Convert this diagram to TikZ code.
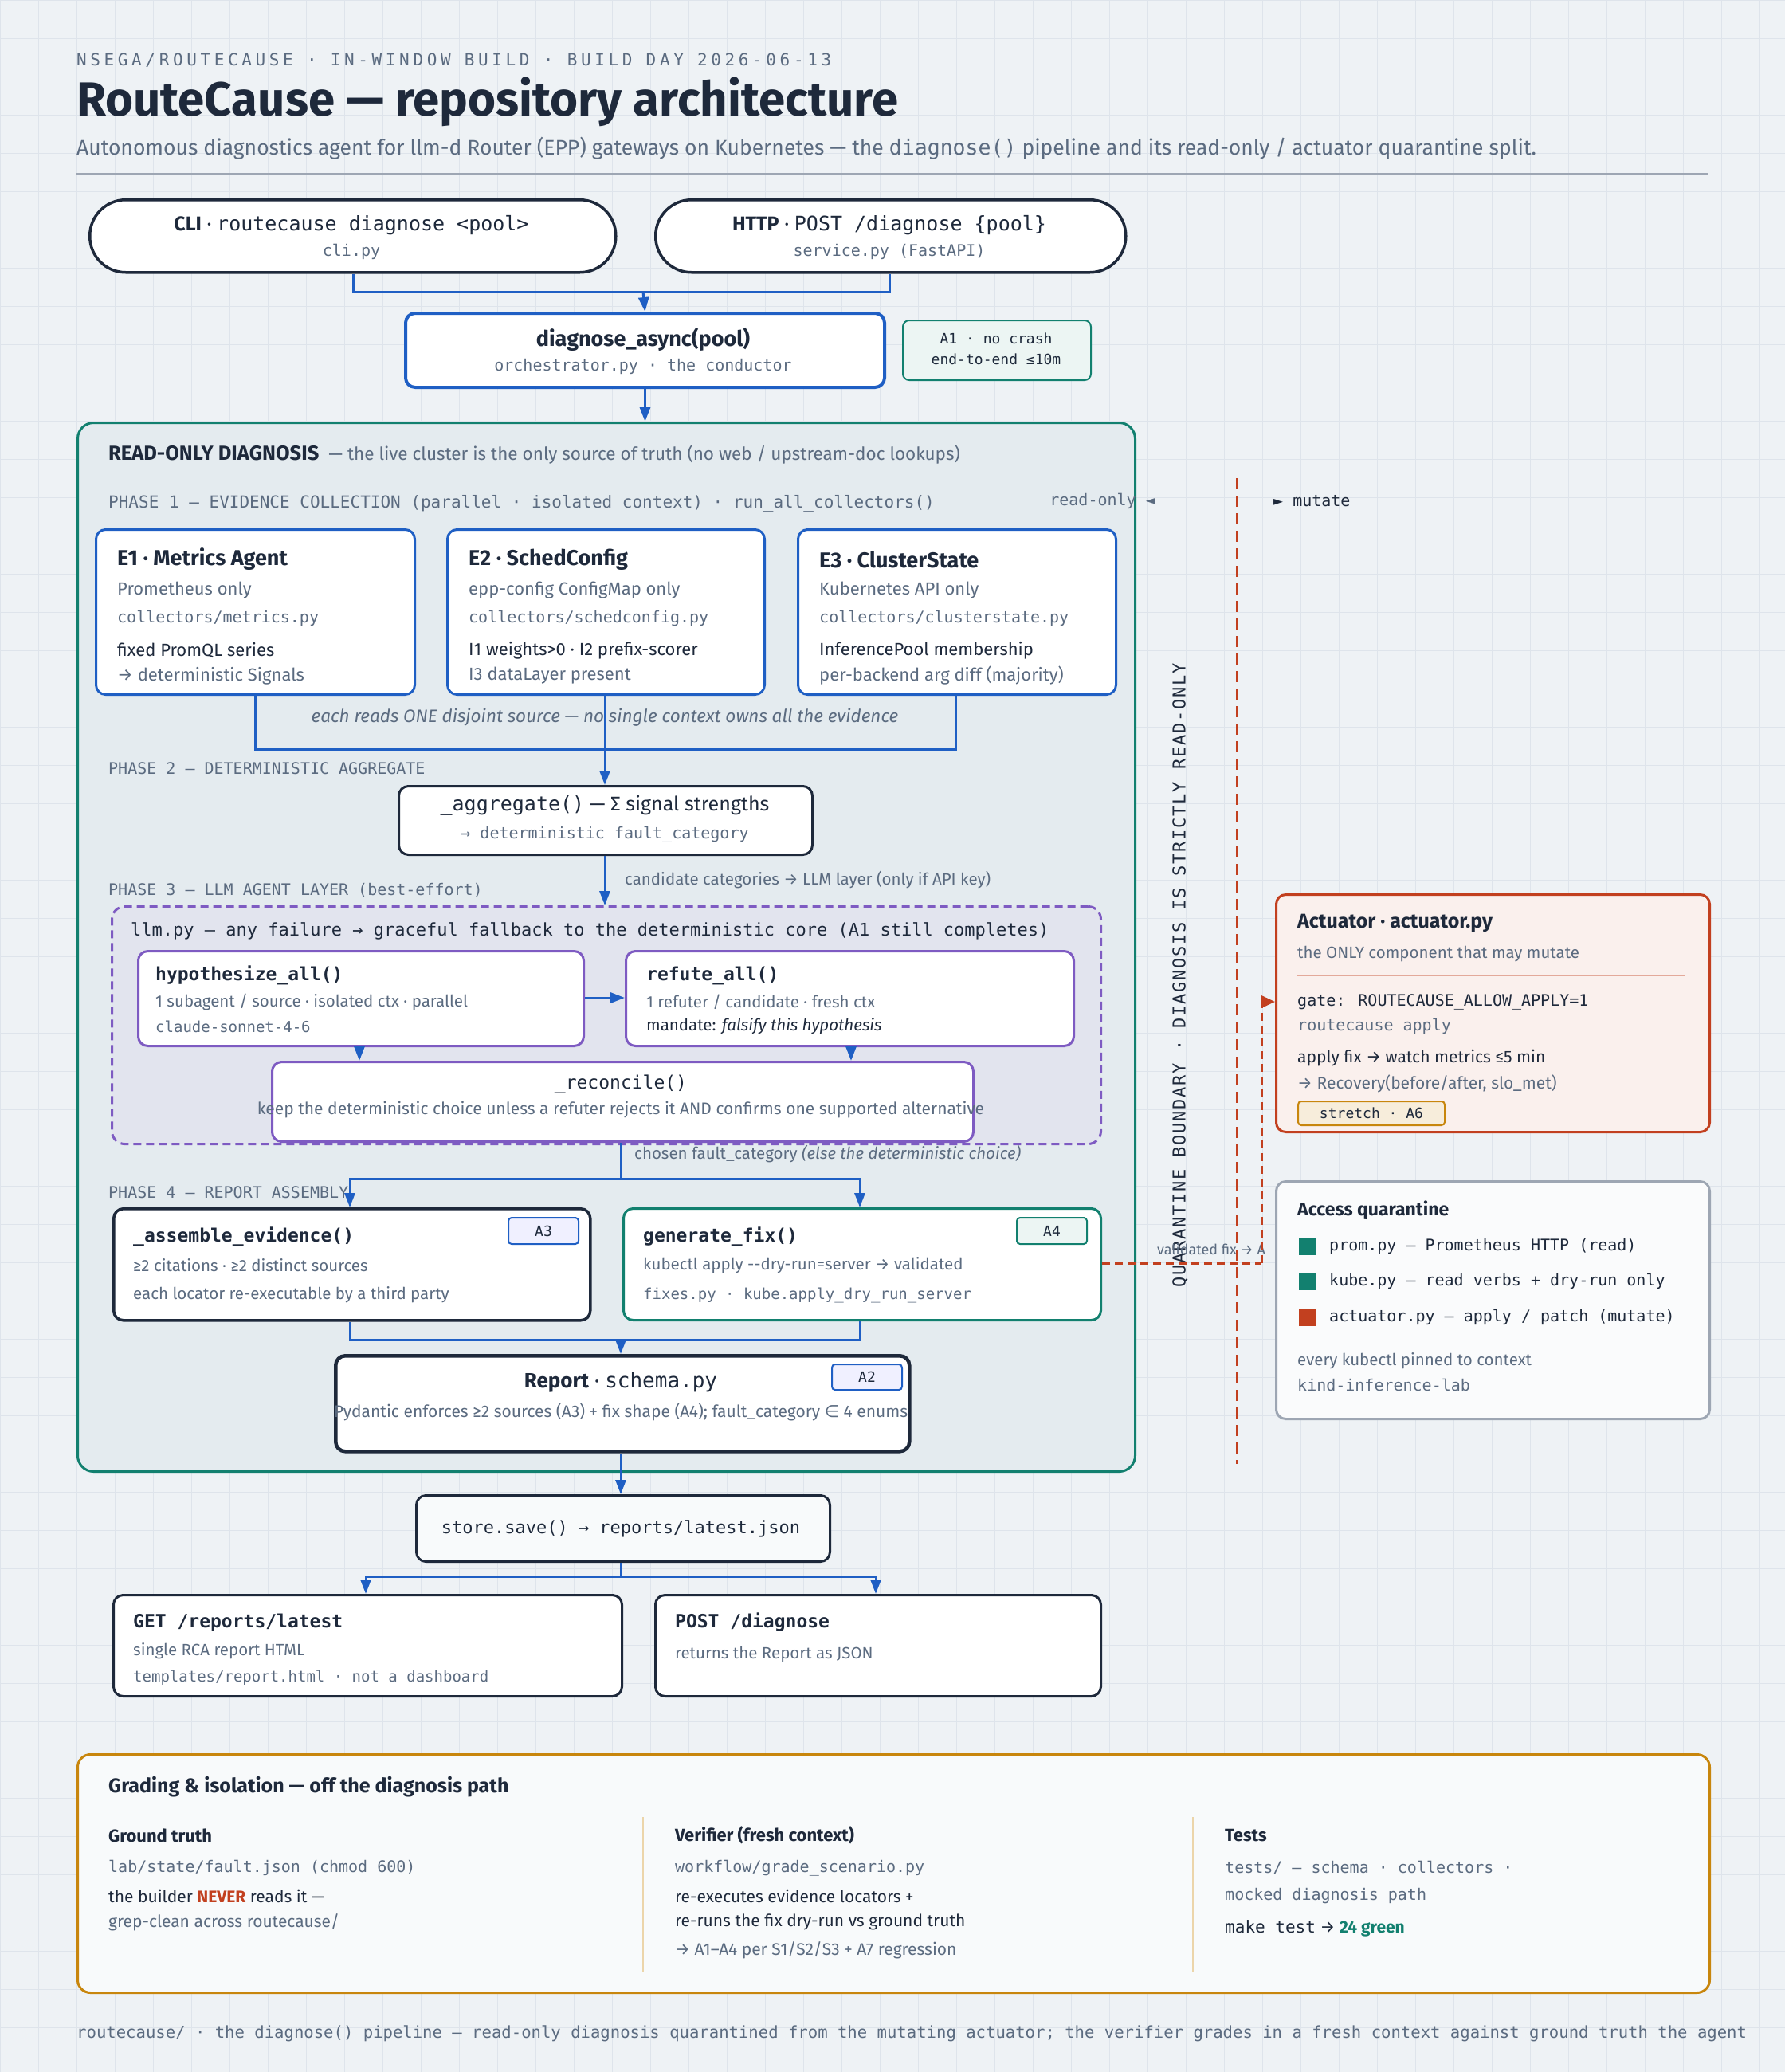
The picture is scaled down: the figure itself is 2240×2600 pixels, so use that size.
\documentclass[tikz,border=0pt]{standalone}
\usepackage{fontspec}
\setmainfont{Fira Sans}
\newfontfamily\mono{DejaVu Sans Mono}
\newfontfamily\monols{DejaVu Sans Mono}[LetterSpace=22]
\newfontfamily\monovs{DejaVu Sans Mono}[LetterSpace=8]
\newfontfamily\djv{DejaVu Sans}
\usetikzlibrary{arrows.meta,positioning}
\definecolor{ink}{HTML}{1E293B}
\definecolor{mut}{HTML}{5B6B80}
\definecolor{bgc}{HTML}{EEF2F5}
\definecolor{grid}{HTML}{DEE4EB}
\definecolor{blu}{HTML}{1F5FC4}
\definecolor{tea}{HTML}{12806F}
\definecolor{pur}{HTML}{7E5BC2}
\definecolor{red}{HTML}{C2401F}
\definecolor{org}{HTML}{C8860D}
\definecolor{zone}{HTML}{E4EBEF}
\definecolor{llmz}{HTML}{E2E4EE}
\begin{document}
\begin{tikzpicture}[x=1pt,y=-1pt,
  box/.style={draw=ink,line width=3.5pt,fill=white,rounded corners=12pt,anchor=north west,inner sep=0},
  bbox/.style={box,draw=blu,line width=3pt},
  pbox/.style={box,draw=pur,line width=3pt},
  tbox/.style={box,draw=tea,line width=3pt},
  tag/.style={draw=blu,line width=2pt,fill=blue!6,rounded corners=4pt,anchor=north west,inner sep=0,font=\mono\fontsize{18}{20}\selectfont,text=ink},
  t/.style={anchor=west,inner sep=0,text=ink,font=\fontsize{22}{26}\selectfont},
  tm/.style={anchor=west,inner sep=0,text=mut,font=\fontsize{22}{26}\selectfont},
  mm/.style={anchor=west,inner sep=0,text=mut,font=\mono\fontsize{20}{24}\selectfont},
  hd/.style={anchor=west,inner sep=0,text=ink,font=\bfseries\fontsize{27}{30}\selectfont},
  ph/.style={anchor=west,inner sep=0,text=mut,font=\mono\fontsize{20}{24}\selectfont},
  arr/.style={draw=blu,line width=3pt,-{Triangle[length=18pt,width=13pt]}},
  ln/.style={draw=blu,line width=3pt},
]
\useasboundingbox (0,0) rectangle (2240,2600);
\fill[bgc] (0,0) rectangle (2240,2600);
\foreach \i in {0,48,...,2240} \draw[grid,line width=1pt] (\i,0) -- (\i,2600);
\foreach \i in {0,48,...,2600} \draw[grid,line width=1pt] (0,\i) -- (2240,\i);

% header
\node[anchor=west,inner sep=0,text=mut,font=\monols\fontsize{21}{24}\selectfont] (hdr) at (96,76) {NSEGA/ROUTECAUSE · IN-WINDOW BUILD · BUILD DAY 2026-06-13};
\node[anchor=west,inner sep=0,text=ink,font=\bfseries\fontsize{60}{66}\selectfont] (title) at (96,128) {RouteCause — repository architecture};
\node[anchor=west,inner sep=0,text=mut,font=\fontsize{26.5}{30}\selectfont] (sub) at (96,186) {Autonomous diagnostics agent for llm-d Router (EPP) gateways on Kubernetes — the {\mono diagnose()} pipeline and its read-only / actuator quarantine split.};
\draw[mut!60,line width=3pt] (96,218) -- (2144,218);

% entry points
\node[box,rounded corners=45pt,minimum width=660pt,minimum height=91pt] (cli) at (111,249) {};
\node[anchor=center,inner sep=0,text=ink,font=\fontsize{25}{28}\selectfont] (clit) at (441,283) {\textbf{CLI} · {\mono routecause diagnose <pool>}};
\node[anchor=center,inner sep=0,text=mut,font=\mono\fontsize{20}{24}\selectfont] (clis) at (441,316) {cli.py};
\node[box,rounded corners=45pt,minimum width=590pt,minimum height=91pt] (http) at (821,249) {};
\node[anchor=center,inner sep=0,text=ink,font=\fontsize{25}{28}\selectfont] (httpt) at (1116,283) {\textbf{HTTP} · {\mono POST /diagnose \{pool\}}};
\node[anchor=center,inner sep=0,text=mut,font=\mono\fontsize{20}{24}\selectfont] (https) at (1116,316) {service.py (FastAPI)};

\node[box,draw=blu,line width=4pt,minimum width=601pt,minimum height=93pt] (orch) at (507,391) {};
\node[anchor=center,inner sep=0,text=ink,font=\bfseries\fontsize{27}{30}\selectfont] (orcht) at (807,426) {diagnose\_async(pool)};
\node[anchor=center,inner sep=0,text=mut,font=\mono\fontsize{20}{24}\selectfont] (orchs) at (807,460) {orchestrator.py · the conductor};
\node[box,draw=tea,line width=2pt,fill=tea!8,rounded corners=8pt,minimum width=236pt,minimum height=75pt] (a1) at (1132,401) {};
\node[anchor=center,inner sep=0,text=ink,font=\mono\fontsize{18}{20}\selectfont] (a1a) at (1250,425) {A1 · no crash};
\node[anchor=center,inner sep=0,text=ink,font=\mono\fontsize{18}{20}\selectfont] (a1b) at (1250,451) {end-to-end ≤10m};

\coordinate (j0) at (807,366);
\draw[ln] (cli.south -| 443,0) |- (j0);
\draw[ln] (http.south -| 1116,0) |- (j0);
\draw[arr] (j0) -- (orch.north);

% read-only zone
\node[draw=tea,line width=3pt,fill=zone,rounded corners=20pt,anchor=north west,inner sep=0,minimum width=1327pt,minimum height=1316pt] (zone) at (96,529) {};
\draw[arr] (orch.south) -- (orch.south |- zone.north);
\node[anchor=west,inner sep=0,text=ink,font=\fontsize{22.5}{26}\selectfont] (zt) at (136,570) {\textbf{\fontsize{25.5}{28}\selectfont READ-ONLY DIAGNOSIS} \ {\color{mut}— the live cluster is the only source of truth (no web / upstream-doc lookups)}};
\node[ph,font=\mono\fontsize{21}{24}\selectfont] (p1) at (136,632) {PHASE 1 — EVIDENCE COLLECTION (parallel · isolated context) · run\_all\_collectors()};
\node[ph,anchor=east] (ro) at (1450,629) {read-only ◄};
\node[ph,text=ink] (mu) at (1598,629) {► mutate};
\draw[red,line width=3pt,dash pattern=on 14pt off 8pt] (1552,600) -- (1552,1837);
\node[rotate=90,inner sep=0,text=ink,font=\monovs\fontsize{22}{24}\selectfont] (qb) at (1481,1224) {QUARANTINE BOUNDARY · DIAGNOSIS IS STRICTLY READ-ONLY};

% phase 1
\node[bbox,minimum width=400pt,minimum height=207pt] (e1) at (119,663) {};
\node[bbox,minimum width=398pt,minimum height=207pt] (e2) at (560,663) {};
\node[bbox,minimum width=399pt,minimum height=207pt] (e3) at (1000,663) {};
\node[hd] (e1t) at (147,702) {E1 · Metrics Agent};
\node[tm] (e1a) at (147,741) {Prometheus only};
\node[mm] (e1b) at (147,776) {collectors/metrics.py};
\node[t] (e1c) at (147,816) {fixed PromQL series};
\node[tm] (e1d) at (147,848) {→ deterministic Signals};
\node[hd] (e2t) at (588,702) {E2 · SchedConfig};
\node[tm] (e2a) at (588,741) {epp-config ConfigMap only};
\node[mm] (e2b) at (588,776) {collectors/schedconfig.py};
\node[t] (e2c) at (588,816) {I1 weights>0 · I2 prefix-scorer};
\node[tm] (e2d) at (588,848) {I3 dataLayer present};
\node[hd] (e3t) at (1028,702) {E3 · ClusterState};
\node[tm] (e3a) at (1028,741) {Kubernetes API only};
\node[mm] (e3b) at (1028,776) {collectors/clusterstate.py};
\node[t] (e3c) at (1028,816) {InferencePool membership};
\node[tm] (e3d) at (1028,848) {per-backend arg diff (majority)};
\coordinate (j1) at (759,940);
\draw[ln] (e1.south -| 320,0) |- (j1);
\draw[ln] (e3.south -| 1199,0) |- (j1);
\node[anchor=center,inner sep=0,text=mut,font=\itshape\fontsize{22.5}{26}\selectfont] (each) at (759,900) {each reads ONE disjoint source — no single context owns all the evidence};
\node[ph] (p2) at (136,964) {PHASE 2 — DETERMINISTIC AGGREGATE};
\node[box,line width=3pt,minimum width=519pt,minimum height=86pt] (agg) at (499,985) {};
\draw[arr] (e2.south -| 759,0) -- (agg.north -| 759,0);
\node[anchor=center,inner sep=0,text=ink,font=\fontsize{25}{28}\selectfont] (aggt) at (759,1011) {{\mono \_aggregate()} — Σ signal strengths};
\node[anchor=center,inner sep=0,text=mut,font=\mono\fontsize{20}{24}\selectfont] (aggs) at (759,1047) {→ deterministic fault\_category};

% phase 3
\node[ph] (p3) at (136,1117) {PHASE 3 — LLM AGENT LAYER (best-effort)};
\node[tm,font=\fontsize{20.5}{24}\selectfont] (cand) at (784,1104) {candidate categories → LLM layer (only if API key)};
\node[draw=pur,line width=3pt,dash pattern=on 10pt off 6pt,fill=llmz,rounded corners=16pt,anchor=north west,inner sep=0,minimum width=1241pt,minimum height=298pt] (llm) at (139,1136) {};
\draw[arr] (agg.south -| 759,0) -- (llm.north -| 759,0);
\node[anchor=west,inner sep=0,text=ink,font=\mono\fontsize{22}{26}\selectfont] (llmt) at (164,1168) {llm.py — any failure → graceful fallback to the deterministic core (A1 still completes)};
\node[pbox,minimum width=559pt,minimum height=119pt] (hyp) at (172,1192) {};
\node[pbox,minimum width=562pt,minimum height=119pt] (ref) at (784,1192) {};
\node[anchor=west,inner sep=0,text=ink,font=\mono\bfseries\fontsize{23}{26}\selectfont] (hypt) at (195,1224) {hypothesize\_all()};
\node[tm,font=\fontsize{20.5}{24}\selectfont] (hypa) at (195,1257) {1 subagent / source · isolated ctx · parallel};
\node[mm,font=\mono\fontsize{19}{22}\selectfont] (hypb) at (195,1288) {claude-sonnet-4-6};
\node[anchor=west,inner sep=0,text=ink,font=\mono\bfseries\fontsize{23}{26}\selectfont] (reft) at (811,1224) {refute\_all()};
\node[tm,font=\fontsize{20.5}{24}\selectfont] (refa) at (811,1257) {1 refuter / candidate · fresh ctx};
\node[t,font=\fontsize{20.5}{24}\selectfont] (refb) at (811,1288) {mandate: \textit{falsify this hypothesis}};
\draw[arr,draw=blu] (hyp.east |- 0,1252) -- (ref.west |- 0,1252);
\node[pbox,minimum width=880pt,minimum height=100pt] (rec) at (340,1331) {};
\draw[arr] (hyp.south -| 451,0) -- (rec.north -| 451,0);
\draw[arr] (ref.south -| 1068,0) -- (rec.north -| 1068,0);
\node[anchor=center,inner sep=0,text=ink,font=\mono\fontsize{23}{26}\selectfont] (rect) at (779,1360) {\_reconcile()};
\node[anchor=center,inner sep=0,text=mut,font=\fontsize{21}{24}\selectfont] (recs) at (779,1393) {keep the deterministic choice unless a refuter rejects it AND confirms one supported alternative};

% phase 4
\node[tm,font=\fontsize{20.5}{24}\selectfont] (chosen) at (796,1448) {chosen fault\_category \textit{(else the deterministic choice)}};
\node[ph] (p4) at (136,1496) {PHASE 4 — REPORT ASSEMBLY};
\node[box,minimum width=598pt,minimum height=140pt] (asm) at (141,1515) {};
\node[tbox,minimum width=599pt,minimum height=140pt] (gen) at (781,1515) {};
\coordinate (j2) at (779,1479);
\draw[ln] (rec.south -| 779,0) -- (j2);
\draw[arr] (j2) -| (asm.north -| 439,0);
\draw[arr] (j2) -| (gen.north -| 1079,0);
\node[tag,minimum width=88pt,minimum height=33pt] (a3) at (637,1527) {A3};
\node[tag,draw=tea,fill=tea!8,minimum width=88pt,minimum height=33pt] (a4) at (1275,1527) {A4};
\node[anchor=west,inner sep=0,text=ink,font=\mono\bfseries\fontsize{23}{26}\selectfont] (asmt) at (167,1552) {\_assemble\_evidence()};
\node[tm,font=\fontsize{20.5}{24}\selectfont] (asma) at (167,1588) {≥2 citations · ≥2 distinct sources};
\node[tm,font=\fontsize{20.5}{24}\selectfont] (asmb) at (167,1625) {each locator re-executable by a third party};
\node[anchor=west,inner sep=0,text=ink,font=\mono\bfseries\fontsize{23}{26}\selectfont] (gent) at (807,1552) {generate\_fix()};
\node[tm,font=\fontsize{20.5}{24}\selectfont] (gena) at (807,1588) {kubectl apply {-}{-}dry-run=server → validated};
\node[mm,font=\mono\fontsize{19}{22}\selectfont] (genb) at (807,1625) {fixes.py · kube.apply\_dry\_run\_server};
\node[box,line width=4.5pt,minimum width=720pt,minimum height=120pt] (rep) at (419,1699) {};
\coordinate (j3) at (779,1681);
\draw[ln] (asm.south -| 439,0) |- (j3);
\draw[ln] (gen.south -| 1079,0) |- (j3);
\draw[arr] (j3) -- (rep.north -| 779,0);
\node[tag,minimum width=88pt,minimum height=32pt] (a2) at (1043,1711) {A2};
\node[anchor=center,inner sep=0,text=ink,font=\fontsize{26}{28}\selectfont] (rept) at (779,1734) {\textbf{Report} · {\mono schema.py}};
\node[anchor=center,inner sep=0,text=mut,font=\fontsize{21}{24}\selectfont] (reps) at (779,1772) {Pydantic enforces ≥2 sources (A3) + fix shape (A4); fault\_category {\djv ∈} 4 enums};

% actuator path
\coordinate (fx) at (1583,1585);
\draw[red,line width=3pt,dash pattern=on 10pt off 6pt] (gen.east |- fx) -- (fx);
\node[tm,font=\fontsize{18}{20}\selectfont,anchor=south west] (vf) at (1452,1575) {validated fix → A};

\node[box,draw=red,line width=3pt,fill=red!8,minimum width=544pt,minimum height=298pt] (act) at (1600,1121) {};
\draw[red,line width=3pt,dash pattern=on 10pt off 6pt,-{Triangle[length=18pt,width=16pt]}] (fx) |- (act.west |- 0,1257);
\node[anchor=west,inner sep=0,text=ink,font=\bfseries\fontsize{25}{28}\selectfont] (actt) at (1628,1159) {Actuator · actuator.py};
\node[tm,font=\fontsize{20.5}{24}\selectfont] (acta) at (1628,1197) {the ONLY component that may mutate};
\draw[red!45,line width=1.5pt] (1628,1224) -- (2115,1224);
\node[anchor=west,inner sep=0,text=ink,font=\mono\fontsize{20}{24}\selectfont] (actb) at (1628,1257) {gate: ROUTECAUSE\_ALLOW\_APPLY=1};
\node[mm] (actc) at (1628,1288) {routecause apply};
\node[t,font=\fontsize{21}{24}\selectfont] (actd) at (1628,1328) {apply fix → watch metrics ≤5 min};
\node[tm,font=\fontsize{21}{24}\selectfont] (acte) at (1628,1360) {→ Recovery(before/after, slo\_met)};
\node[draw=org,line width=2pt,fill=org!15,rounded corners=4pt,anchor=north west,inner sep=0,minimum width=184pt,minimum height=30pt,font=\mono\fontsize{18}{20}\selectfont,text=ink] (a6) at (1628,1381) {stretch · A6};

\node[box,draw=mut!60,line width=3pt,fill=white!70!bgc,minimum width=544pt,minimum height=298pt] (aq) at (1600,1481) {};
\node[anchor=west,inner sep=0,text=ink,font=\bfseries\fontsize{23}{26}\selectfont] (aqt) at (1628,1519) {Access quarantine};
\fill[tea] (1630,1553) rectangle (1651,1575);
\fill[tea] (1630,1597) rectangle (1651,1619);
\fill[red] (1630,1642) rectangle (1651,1664);
\node[anchor=west,inner sep=0,text=ink,font=\mono\fontsize{20}{24}\selectfont] (aq1) at (1668,1564) {prom.py — Prometheus HTTP (read)};
\node[anchor=west,inner sep=0,text=ink,font=\mono\fontsize{20}{24}\selectfont] (aq2) at (1668,1608) {kube.py — read verbs + dry-run only};
\node[anchor=west,inner sep=0,text=ink,font=\mono\fontsize{20}{24}\selectfont] (aq3) at (1668,1653) {actuator.py — apply / patch (mutate)};
\node[tm,font=\fontsize{20.5}{24}\selectfont] (aq4) at (1628,1708) {every kubectl pinned to context};
\node[mm] (aq5) at (1628,1738) {kind-inference-lab};

% store & endpoints
\node[box,line width=3pt,fill=white!60!bgc,minimum width=519pt,minimum height=83pt] (store) at (521,1875) {};
\draw[arr] (rep.south -| 779,0) -- (store.north -| 779,0);
\node[anchor=center,inner sep=0,text=ink,font=\mono\fontsize{22}{26}\selectfont] (storet) at (779,1918) {store.save() → reports/latest.json};
\node[box,line width=3pt,minimum width=638pt,minimum height=127pt] (get) at (141,2000) {};
\node[box,line width=3pt,minimum width=559pt,minimum height=127pt] (post) at (821,2000) {};
\coordinate (j4) at (779,1978);
\draw[ln] (store.south -| 779,0) -- (j4);
\draw[arr] (j4) -| (get.north -| 459,0);
\draw[arr] (j4) -| (post.north -| 1099,0);
\node[anchor=west,inner sep=0,text=ink,font=\mono\bfseries\fontsize{23}{26}\selectfont] (gett) at (167,2036) {GET /reports/latest};
\node[tm,font=\fontsize{20.5}{24}\selectfont] (geta) at (167,2072) {single RCA report HTML};
\node[mm,font=\mono\fontsize{19}{22}\selectfont] (getb) at (167,2105) {templates/report.html · not a dashboard};
\node[anchor=west,inner sep=0,text=ink,font=\mono\bfseries\fontsize{23}{26}\selectfont] (postt) at (847,2036) {POST /diagnose};
\node[tm,font=\fontsize{20.5}{24}\selectfont] (posta) at (847,2076) {returns the Report as JSON};

% grading
\node[box,draw=org,line width=3pt,fill=white!60!bgc,rounded corners=16pt,minimum width=2048pt,minimum height=299pt] (grad) at (96,2200) {};
\node[anchor=west,inner sep=0,text=ink,font=\bfseries\fontsize{25}{28}\selectfont] (gradt) at (136,2242) {Grading \& isolation — off the diagnosis path};
\draw[org!35,line width=1.5pt] (807,2280) -- (807,2475);
\draw[org!35,line width=1.5pt] (1497,2280) -- (1497,2475);
\node[anchor=west,inner sep=0,text=ink,font=\bfseries\fontsize{22}{26}\selectfont] (g1) at (136,2303) {Ground truth};
\node[mm] (g1a) at (136,2344) {lab/state/fault.json (chmod 600)};
\node[t,font=\fontsize{21}{24}\selectfont] (g1b) at (136,2379) {the builder {\color{red}\bfseries NEVER} reads it —};
\node[tm,font=\fontsize{21}{24}\selectfont] (g1c) at (136,2412) {grep-clean across routecause/};
\node[anchor=west,inner sep=0,text=ink,font=\bfseries\fontsize{22}{26}\selectfont] (g2) at (847,2303) {Verifier (fresh context)};
\node[mm] (g2a) at (847,2344) {workflow/grade\_scenario.py};
\node[t,font=\fontsize{21}{24}\selectfont] (g2b) at (847,2379) {re-executes evidence locators +};
\node[t,font=\fontsize{21}{24}\selectfont] (g2c) at (847,2412) {re-runs the fix dry-run vs ground truth};
\node[tm,font=\fontsize{21}{24}\selectfont] (g2d) at (847,2447) {→ A1–A4 per S1/S2/S3 + A7 regression};
\node[anchor=west,inner sep=0,text=ink,font=\bfseries\fontsize{22}{26}\selectfont] (g3) at (1537,2303) {Tests};
\node[mm] (g3a) at (1537,2344) {tests/ — schema · collectors ·};
\node[mm] (g3b) at (1537,2379) {mocked diagnosis path};
\node[t,font=\fontsize{21}{24}\selectfont] (g3c) at (1537,2420) {{\mono make test} → {\color{tea}\bfseries 24 green}};

\node[anchor=west,inner sep=0,text=mut,font=\mono\fontsize{20.6}{24}\selectfont] (foot) at (96,2552) {routecause/ · the diagnose() pipeline — read-only diagnosis quarantined from the mutating actuator; the verifier grades in a fresh context against ground truth the agent};
\end{tikzpicture}
\end{document}
